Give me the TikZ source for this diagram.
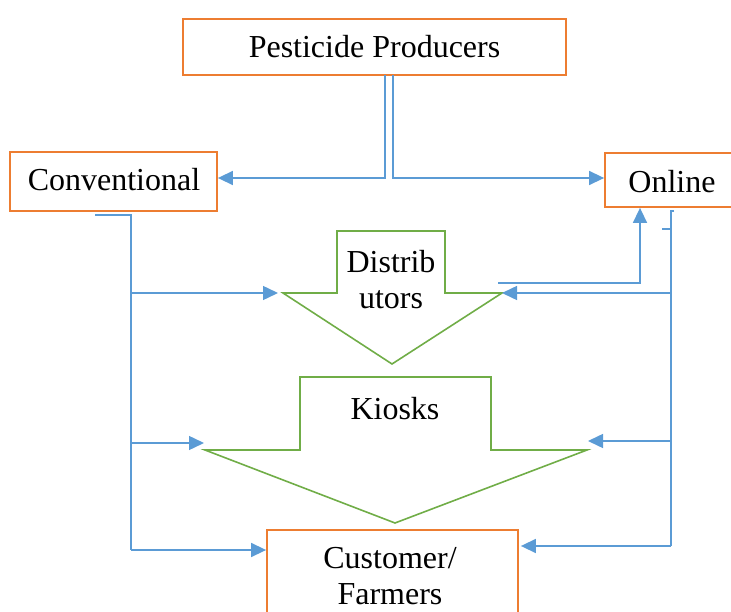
\documentclass[tikz,border=0pt]{standalone}
\usepackage{fontspec}
\setmainfont{Liberation Serif}
\usetikzlibrary{arrows.meta}
\definecolor{cblue}{HTML}{5B9BD5}
\definecolor{corange}{HTML}{ED7D31}
\definecolor{cgreen}{HTML}{70AD47}
\tikzset{
  box/.style={draw=corange, line width=1.8pt, fill=white, inner sep=0pt},
  lbl/.style={inner sep=0pt, font=\fontsize{32}{36}\selectfont, align=center},
  conn/.style={draw=cblue, line width=1.5pt},
  arr/.style={conn, -{Triangle[length=15pt,width=14pt]}},
  bigarrow/.style={draw=cgreen, line width=1.6pt, line join=miter}
}
\begin{document}
\begin{tikzpicture}[x=1pt,y=-1pt]
\useasboundingbox (0,0) rectangle (731,612);
% boxes
\node[box, minimum width=383pt, minimum height=56pt] (prod) at (374.5,47) {};
\node[lbl] (prodt) at (374.5,47) {Pesticide Producers};
\node[box, minimum width=207pt, minimum height=59pt] (conv) at (113.5,181.5) {};
\node[lbl] (convt) at (114,180) {Conventional};
\node[box, minimum width=134pt, minimum height=54pt] (onl) at (672,180) {};
\node[lbl] (onlt) at (672,182) {Online};
\node[box, minimum width=251pt, minimum height=110pt] (cust) at (392.5,585) {};
\node[lbl] (custt) at (390,576) {Customer/\\Farmers};
% big arrows
\coordinate (dL) at (283,293);
\coordinate (dR) at (502,293);
\coordinate (kL) at (205,450);
\coordinate (kR) at (587,450);
\draw[bigarrow] (337,231) -- (445,231) -- (445,293) -- (dR) -- (392,364) -- (dL) -- (337,293) -- cycle;
\node[lbl] (dist) at (391,280) {Distrib\\utors};
\draw[bigarrow] (300,377) -- (491,377) -- (491,450) -- (kR) -- (395,523) -- (kL) -- (300,450) -- cycle;
\node[lbl] (kiosk) at (395,409) {Kiosks};
% producer outputs
\coordinate (pl) at (385,75);
\coordinate (pr) at (393,75);
\draw[arr] (pl) |- ([yshift=3.5pt]conv.east);
\draw[arr] (pr) |- ([yshift=2pt]onl.west);
% conventional channel
\coordinate (cs) at (95,215);
\coordinate (cv) at (131,215);
\coordinate (cb1) at (131,293);
\coordinate (cb2) at (131,443);
\coordinate (cb3) at (131,550);
\draw[conn] (cs) -- (cv) -- (cb3);
\draw[arr] (cb1) -- ([xshift=-5pt]dL);
\draw[arr] (cb2) -- (204,443);
\draw[arr] (cb3) -- ([yshift=35pt]cust.west);
% online channel
\coordinate (ot) at (671,211);
\coordinate (ob1) at (671,293);
\coordinate (ob2) at (671,441);
\coordinate (ob3) at (671,546);
\draw[conn] (674,211) -- (ot) -- (ob3);
\draw[conn] (662,229) -- (671,229);
\draw[arr] (ob1) -- (dR);
\draw[arr] (ob2) -- (588,441);
\draw[arr] (ob3) -- ([xshift=2pt,yshift=39pt]cust.east);
% distributors to online
\coordinate (dso) at (498,283);
\draw[arr] (dso) -- (640,283) -- (640,207.9);
\end{tikzpicture}
\end{document}
